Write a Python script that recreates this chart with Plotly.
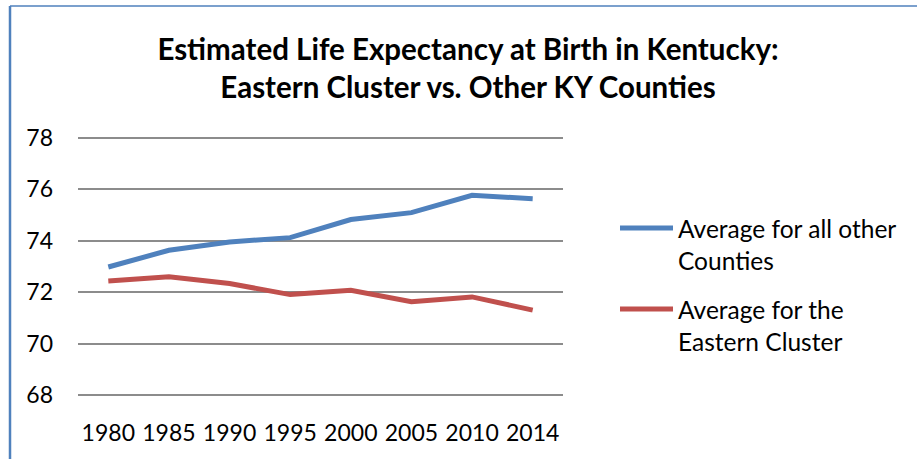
import plotly.graph_objects as go

years = ["1980", "1985", "1990", "1995", "2000", "2005", "2010", "2014"]
other_counties = [72.98, 73.63, 73.95, 74.12, 74.82, 75.09, 75.76, 75.63]
eastern_cluster = [72.44, 72.60, 72.34, 71.91, 72.08, 71.63, 71.82, 71.31]
series_names = ["Average for all other<br>Counties", "Average for the<br>Eastern Cluster"]
series_colors = ["#4F81BD", "#C0504D"]
y_ticks = [68, 70, 72, 74, 76, 78]
title_text = "Estimated Life Expectancy at Birth in Kentucky:<br>Eastern Cluster vs. Other KY Counties"

FONT = "Lato"
W, H = 917, 459
L, R, T, B = 78, 354, 135, 61
PW, PH = W - L - R, H - T - B


def px_x(x):
    return (x - L) / PW


def px_y(y):
    return (H - B - y) / PH


fig = go.Figure()
for vals, name, col in zip([other_counties, eastern_cluster], series_names, series_colors):
    fig.add_trace(go.Scatter(x=years, y=vals, mode="lines", name=name,
                             line=dict(color=col, width=5), showlegend=False))

# manual legend (sample line + wrapped label)
leg_y = [228, 309]
shapes = []
for i, (name, col) in enumerate(zip(series_names, series_colors)):
    shapes.append(dict(type="line", xref="paper", yref="paper",
                       x0=px_x(620), x1=px_x(673), y0=px_y(leg_y[i]), y1=px_y(leg_y[i]),
                       line=dict(color=col, width=5)))
    fig.add_annotation(xref="paper", yref="paper",
                       x=px_x(676), y=px_y(leg_y[i] - 16),
                       xanchor="left", yanchor="top", align="left", showarrow=False,
                       text=name, font=dict(family=FONT, size=24.5, color="#000000"))

# chart border (top and left edges visible)
shapes.append(dict(type="line", xref="paper", yref="paper",
                   x0=px_x(10), x1=px_x(W + 5), y0=px_y(6), y1=px_y(6),
                   line=dict(color="#4F81BD", width=1.5)))
shapes.append(dict(type="line", xref="paper", yref="paper",
                   x0=px_x(10), x1=px_x(10), y0=px_y(6), y1=px_y(H + 5),
                   line=dict(color="#4F81BD", width=2.5)))

fig.update_layout(
    width=W, height=H,
    margin=dict(l=L, r=R, t=T, b=B),
    paper_bgcolor="white", plot_bgcolor="white",
    title=dict(text=title_text, x=468 / W, xanchor="center", y=1 - 60 / H, yanchor="middle",
               font=dict(family=FONT, size=29.5, color="#000000", weight="bold")),
    font=dict(family=FONT, size=23, color="#000000"),
    xaxis=dict(type="category", range=[-0.5, len(years) - 0.5], showgrid=False, showline=False,
               zeroline=False, ticks="", ticklabelstandoff=19, tickfont=dict(family=FONT, size=23)),
    yaxis=dict(range=[67.9, 78.1], tickvals=y_ticks, showgrid=True, gridcolor="#8C8C8C",
               gridwidth=1.5, zeroline=False, showline=False, ticks="", ticklabelstandoff=24,
               tickfont=dict(family=FONT, size=23)),
    shapes=shapes,
)

fig.write_html("out.html", config={"displayModeBar": False},
               post_script="document.body.style.margin='0';")
